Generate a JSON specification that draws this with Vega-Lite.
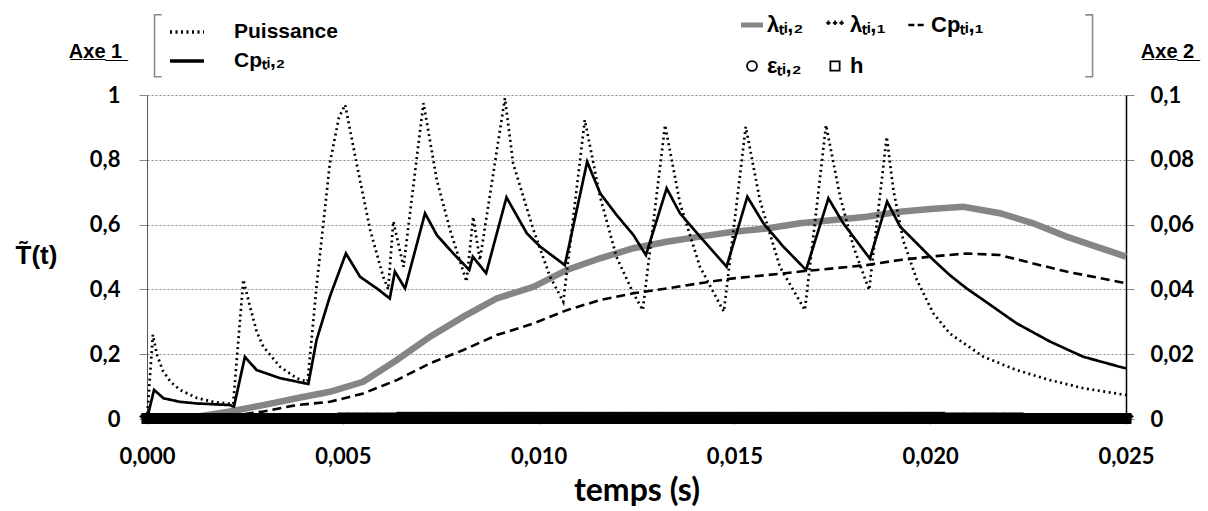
{
  "$schema": "https://vega.github.io/schema/vega-lite/v6.json",
  "width": 979,
  "height": 324,
  "autosize": {"type": "none"},
  "padding": {"left": 147, "top": 95, "right": 82, "bottom": 92},
  "background": "white",
  "config": {
    "view": {"stroke": null},
    "axis": {
      "labelFont": "Lato",
      "labelFontWeight": "bold",
      "labelFontSize": 22,
      "labelColor": "black",
      "titleFont": "Liberation Sans",
      "titleColor": "black",
      "tickColor": "#888888",
      "labelFlush": false,
      "labelOverlap": false
    }
  },
  "datasets": {
    "axe1": [
      {"t": 0, "v": 0, "s": "P"}, {"t": 0.00015, "v": 0.26, "s": "P"}, {"t": 0.00025, "v": 0.2, "s": "P"}, {"t": 0.0004, "v": 0.15, "s": "P"},
      {"t": 0.0006, "v": 0.115, "s": "P"}, {"t": 0.00084, "v": 0.09, "s": "P"}, {"t": 0.00127, "v": 0.065, "s": "P"}, {"t": 0.00169, "v": 0.053, "s": "P"},
      {"t": 0.0022, "v": 0.046, "s": "P"}, {"t": 0.00246, "v": 0.43, "s": "P"}, {"t": 0.00263, "v": 0.347, "s": "P"}, {"t": 0.0028, "v": 0.27, "s": "P"},
      {"t": 0.00297, "v": 0.223, "s": "P"}, {"t": 0.0034, "v": 0.161, "s": "P"}, {"t": 0.00382, "v": 0.126, "s": "P"}, {"t": 0.0041, "v": 0.115, "s": "P"},
      {"t": 0.00433, "v": 0.41, "s": "P"}, {"t": 0.00467, "v": 0.79, "s": "P"}, {"t": 0.0049, "v": 0.93, "s": "P"}, {"t": 0.00506, "v": 0.97, "s": "P"},
      {"t": 0.00535, "v": 0.79, "s": "P"}, {"t": 0.0057, "v": 0.583, "s": "P"}, {"t": 0.00603, "v": 0.44, "s": "P"}, {"t": 0.00616, "v": 0.4, "s": "P"},
      {"t": 0.00629, "v": 0.61, "s": "P"}, {"t": 0.00655, "v": 0.47, "s": "P"}, {"t": 0.00706, "v": 0.975, "s": "P"}, {"t": 0.0074, "v": 0.738, "s": "P"},
      {"t": 0.00774, "v": 0.583, "s": "P"}, {"t": 0.00816, "v": 0.424, "s": "P"}, {"t": 0.00833, "v": 0.624, "s": "P"}, {"t": 0.0085, "v": 0.49, "s": "P"},
      {"t": 0.00914, "v": 0.99, "s": "P"}, {"t": 0.00935, "v": 0.789, "s": "P"}, {"t": 0.00987, "v": 0.583, "s": "P"}, {"t": 0.01029, "v": 0.44, "s": "P"},
      {"t": 0.01063, "v": 0.362, "s": "P"}, {"t": 0.01118, "v": 0.923, "s": "P"}, {"t": 0.01157, "v": 0.686, "s": "P"}, {"t": 0.01199, "v": 0.5, "s": "P"},
      {"t": 0.01242, "v": 0.388, "s": "P"}, {"t": 0.01266, "v": 0.336, "s": "P"}, {"t": 0.01323, "v": 0.907, "s": "P"}, {"t": 0.01361, "v": 0.666, "s": "P"},
      {"t": 0.01412, "v": 0.47, "s": "P"}, {"t": 0.01473, "v": 0.331, "s": "P"}, {"t": 0.01529, "v": 0.902, "s": "P"}, {"t": 0.01565, "v": 0.676, "s": "P"},
      {"t": 0.01616, "v": 0.47, "s": "P"}, {"t": 0.0168, "v": 0.336, "s": "P"}, {"t": 0.01734, "v": 0.907, "s": "P"}, {"t": 0.0177, "v": 0.686, "s": "P"},
      {"t": 0.01804, "v": 0.532, "s": "P"}, {"t": 0.01844, "v": 0.398, "s": "P"}, {"t": 0.01889, "v": 0.871, "s": "P"}, {"t": 0.01906, "v": 0.707, "s": "P"},
      {"t": 0.01931, "v": 0.552, "s": "P"}, {"t": 0.01966, "v": 0.429, "s": "P"}, {"t": 0.02008, "v": 0.326, "s": "P"}, {"t": 0.0205, "v": 0.264, "s": "P"},
      {"t": 0.02136, "v": 0.192, "s": "P"}, {"t": 0.02221, "v": 0.151, "s": "P"}, {"t": 0.02306, "v": 0.12, "s": "P"}, {"t": 0.02391, "v": 0.095, "s": "P"},
      {"t": 0.025, "v": 0.074, "s": "P"},
      {"t": 0, "v": 0, "s": "C"}, {"t": 0.00018, "v": 0.09, "s": "C"}, {"t": 0.00042, "v": 0.064, "s": "C"}, {"t": 0.00084, "v": 0.053, "s": "C"},
      {"t": 0.00127, "v": 0.048, "s": "C"}, {"t": 0.00212, "v": 0.043, "s": "C"}, {"t": 0.00222, "v": 0.038, "s": "C"}, {"t": 0.0025, "v": 0.192, "s": "C"},
      {"t": 0.0028, "v": 0.151, "s": "C"}, {"t": 0.0034, "v": 0.126, "s": "C"}, {"t": 0.00412, "v": 0.108, "s": "C"}, {"t": 0.00433, "v": 0.244, "s": "C"},
      {"t": 0.00467, "v": 0.378, "s": "C"}, {"t": 0.00508, "v": 0.511, "s": "C"}, {"t": 0.00544, "v": 0.439, "s": "C"}, {"t": 0.00587, "v": 0.403, "s": "C"},
      {"t": 0.0062, "v": 0.372, "s": "C"}, {"t": 0.00633, "v": 0.455, "s": "C"}, {"t": 0.00659, "v": 0.403, "s": "C"}, {"t": 0.0071, "v": 0.635, "s": "C"},
      {"t": 0.0074, "v": 0.568, "s": "C"}, {"t": 0.00782, "v": 0.511, "s": "C"}, {"t": 0.00823, "v": 0.46, "s": "C"}, {"t": 0.00832, "v": 0.501, "s": "C"},
      {"t": 0.00866, "v": 0.45, "s": "C"}, {"t": 0.00918, "v": 0.684, "s": "C"}, {"t": 0.0097, "v": 0.573, "s": "C"}, {"t": 0.01004, "v": 0.532, "s": "C"},
      {"t": 0.01067, "v": 0.475, "s": "C"}, {"t": 0.01124, "v": 0.794, "s": "C"}, {"t": 0.01157, "v": 0.697, "s": "C"}, {"t": 0.01199, "v": 0.63, "s": "C"},
      {"t": 0.01242, "v": 0.568, "s": "C"}, {"t": 0.01274, "v": 0.506, "s": "C"}, {"t": 0.01327, "v": 0.712, "s": "C"}, {"t": 0.01361, "v": 0.635, "s": "C"},
      {"t": 0.01412, "v": 0.563, "s": "C"}, {"t": 0.0148, "v": 0.47, "s": "C"}, {"t": 0.01533, "v": 0.686, "s": "C"}, {"t": 0.01574, "v": 0.604, "s": "C"},
      {"t": 0.01625, "v": 0.532, "s": "C"}, {"t": 0.01683, "v": 0.46, "s": "C"}, {"t": 0.0174, "v": 0.681, "s": "C"}, {"t": 0.01778, "v": 0.604, "s": "C"},
      {"t": 0.01846, "v": 0.495, "s": "C"}, {"t": 0.0189, "v": 0.671, "s": "C"}, {"t": 0.01923, "v": 0.594, "s": "C"}, {"t": 0.01966, "v": 0.542, "s": "C"},
      {"t": 0.02008, "v": 0.491, "s": "C"}, {"t": 0.0205, "v": 0.444, "s": "C"}, {"t": 0.02093, "v": 0.403, "s": "C"}, {"t": 0.02136, "v": 0.367, "s": "C"},
      {"t": 0.02221, "v": 0.295, "s": "C"}, {"t": 0.02306, "v": 0.239, "s": "C"}, {"t": 0.02391, "v": 0.192, "s": "C"}, {"t": 0.025, "v": 0.156, "s": "C"}
    ],
    "lam2": [
      {"t": 0, "v": 0}, {"t": 0.0005, "v": 0.0002}, {"t": 0.00127, "v": 0.0007}, {"t": 0.00212, "v": 0.0023}, {"t": 0.00297, "v": 0.0043},
      {"t": 0.00382, "v": 0.0064}, {"t": 0.00467, "v": 0.0084}, {"t": 0.00552, "v": 0.0115}, {"t": 0.00638, "v": 0.0182}, {"t": 0.00723, "v": 0.0254},
      {"t": 0.00808, "v": 0.0316}, {"t": 0.00893, "v": 0.0372}, {"t": 0.00987, "v": 0.0408}, {"t": 0.01072, "v": 0.046}, {"t": 0.01157, "v": 0.0496},
      {"t": 0.01242, "v": 0.0527}, {"t": 0.01327, "v": 0.0547}, {"t": 0.01412, "v": 0.0563}, {"t": 0.01497, "v": 0.0578}, {"t": 0.01582, "v": 0.0588},
      {"t": 0.01668, "v": 0.0604}, {"t": 0.01753, "v": 0.0614}, {"t": 0.01838, "v": 0.0624}, {"t": 0.01923, "v": 0.064}, {"t": 0.02, "v": 0.0648},
      {"t": 0.02085, "v": 0.0655}, {"t": 0.02178, "v": 0.0635}, {"t": 0.02263, "v": 0.0604}, {"t": 0.02348, "v": 0.0563}, {"t": 0.025, "v": 0.0501}
    ],
    "cp1": [
      {"t": 0, "v": 0}, {"t": 0.001, "v": 0.0001}, {"t": 0.002, "v": 0.0008}, {"t": 0.00297, "v": 0.0023}, {"t": 0.00382, "v": 0.0043},
      {"t": 0.00467, "v": 0.0053}, {"t": 0.00552, "v": 0.0079}, {"t": 0.00638, "v": 0.012}, {"t": 0.00723, "v": 0.0172}, {"t": 0.00808, "v": 0.0213},
      {"t": 0.00893, "v": 0.0259}, {"t": 0.00987, "v": 0.0295}, {"t": 0.01072, "v": 0.0336}, {"t": 0.01157, "v": 0.0367}, {"t": 0.01242, "v": 0.0388},
      {"t": 0.01327, "v": 0.0403}, {"t": 0.01412, "v": 0.0419}, {"t": 0.01497, "v": 0.0434}, {"t": 0.01582, "v": 0.0444}, {"t": 0.01668, "v": 0.0455},
      {"t": 0.01753, "v": 0.0465}, {"t": 0.01838, "v": 0.0475}, {"t": 0.01923, "v": 0.0491}, {"t": 0.02008, "v": 0.0502}, {"t": 0.02093, "v": 0.0511},
      {"t": 0.02178, "v": 0.0506}, {"t": 0.02263, "v": 0.048}, {"t": 0.02348, "v": 0.0455}, {"t": 0.025, "v": 0.0419}
    ],
    "band": [
      {"t": 0, "lam1": 0.0002, "eps2": 0.0002, "h": 0.0001}, {"t": 0.00025, "lam1": 0.0002, "eps2": 0.0002, "h": 0.0001},
      {"t": 0.0005, "lam1": 0.0002, "eps2": 0.0002, "h": 0.0001}, {"t": 0.00075, "lam1": 0.0002, "eps2": 0.0002, "h": 0.0001},
      {"t": 0.001, "lam1": 0.0002, "eps2": 0.0002, "h": 0.0001}, {"t": 0.00125, "lam1": 0.0002, "eps2": 0.0002, "h": 0.0001},
      {"t": 0.0015, "lam1": 0.0002, "eps2": 0.0002, "h": 0.0001}, {"t": 0.00175, "lam1": 0.0002, "eps2": 0.0002, "h": 0.0001},
      {"t": 0.002, "lam1": 0.0002, "eps2": 0.0002, "h": 0.0001}, {"t": 0.00225, "lam1": 0.0002, "eps2": 0.0002, "h": 0.0001},
      {"t": 0.0025, "lam1": 0.0002, "eps2": 0.0002, "h": 0.0001}, {"t": 0.00275, "lam1": 0.0002, "eps2": 0.0002, "h": 0.0001},
      {"t": 0.003, "lam1": 0.0002, "eps2": 0.0002, "h": 0.0001}, {"t": 0.00325, "lam1": 0.0002, "eps2": 0.0002, "h": 0.0001},
      {"t": 0.0035, "lam1": 0.0002, "eps2": 0.0002, "h": 0.0001}, {"t": 0.00375, "lam1": 0.0002, "eps2": 0.0002, "h": 0.0001},
      {"t": 0.004, "lam1": 0.0002, "eps2": 0.0002, "h": 0.0001}, {"t": 0.00425, "lam1": 0.0002, "eps2": 0.0002, "h": 0.0001},
      {"t": 0.0045, "lam1": 0.0002, "eps2": 0.0002, "h": 0.0001}, {"t": 0.00475, "lam1": 0.0002, "eps2": 0.0002, "h": 0.0001},
      {"t": 0.005, "lam1": 0.0004, "eps2": 0.0002, "h": 0.0001}, {"t": 0.00525, "lam1": 0.0004, "eps2": 0.0002, "h": 0.0001},
      {"t": 0.0055, "lam1": 0.0004, "eps2": 0.0002, "h": 0.0001}, {"t": 0.00575, "lam1": 0.0004, "eps2": 0.0002, "h": 0.0001},
      {"t": 0.006, "lam1": 0.0004, "eps2": 0.0002, "h": 0.0001}, {"t": 0.00625, "lam1": 0.0004, "eps2": 0.0002, "h": 0.0001},
      {"t": 0.0065, "lam1": 0.0006, "eps2": 0.0002, "h": 0.0001}, {"t": 0.00675, "lam1": 0.0006, "eps2": 0.0002, "h": 0.0001},
      {"t": 0.007, "lam1": 0.0006, "eps2": 0.0002, "h": 0.0001}, {"t": 0.00725, "lam1": 0.0006, "eps2": 0.0002, "h": 0.0001},
      {"t": 0.0075, "lam1": 0.0006, "eps2": 0.0002, "h": 0.0001}, {"t": 0.00775, "lam1": 0.0006, "eps2": 0.0002, "h": 0.0001},
      {"t": 0.008, "lam1": 0.0006, "eps2": 0.0002, "h": 0.0001}, {"t": 0.00825, "lam1": 0.0006, "eps2": 0.0002, "h": 0.0001},
      {"t": 0.0085, "lam1": 0.0006, "eps2": 0.0002, "h": 0.0001}, {"t": 0.00875, "lam1": 0.0006, "eps2": 0.0002, "h": 0.0001},
      {"t": 0.009, "lam1": 0.0006, "eps2": 0.0002, "h": 0.0001}, {"t": 0.00925, "lam1": 0.0006, "eps2": 0.0002, "h": 0.0001},
      {"t": 0.0095, "lam1": 0.0006, "eps2": 0.0002, "h": 0.0001}, {"t": 0.00975, "lam1": 0.0006, "eps2": 0.0002, "h": 0.0001},
      {"t": 0.01, "lam1": 0.0006, "eps2": 0.0002, "h": 0.0001}, {"t": 0.01025, "lam1": 0.0006, "eps2": 0.0002, "h": 0.0001},
      {"t": 0.0105, "lam1": 0.0006, "eps2": 0.0002, "h": 0.0001}, {"t": 0.01075, "lam1": 0.0006, "eps2": 0.0002, "h": 0.0001},
      {"t": 0.011, "lam1": 0.0006, "eps2": 0.0002, "h": 0.0001}, {"t": 0.01125, "lam1": 0.0006, "eps2": 0.0002, "h": 0.0001},
      {"t": 0.0115, "lam1": 0.0006, "eps2": 0.0002, "h": 0.0001}, {"t": 0.01175, "lam1": 0.0006, "eps2": 0.0002, "h": 0.0001},
      {"t": 0.012, "lam1": 0.0006, "eps2": 0.0002, "h": 0.0001}, {"t": 0.01225, "lam1": 0.0006, "eps2": 0.0002, "h": 0.0001},
      {"t": 0.0125, "lam1": 0.0006, "eps2": 0.0002, "h": 0.0001}, {"t": 0.01275, "lam1": 0.0006, "eps2": 0.0002, "h": 0.0001},
      {"t": 0.013, "lam1": 0.0006, "eps2": 0.0002, "h": 0.0001}, {"t": 0.01325, "lam1": 0.0006, "eps2": 0.0002, "h": 0.0001},
      {"t": 0.0135, "lam1": 0.0006, "eps2": 0.0002, "h": 0.0001}, {"t": 0.01375, "lam1": 0.0006, "eps2": 0.0002, "h": 0.0001},
      {"t": 0.014, "lam1": 0.0006, "eps2": 0.0002, "h": 0.0001}, {"t": 0.01425, "lam1": 0.0006, "eps2": 0.0002, "h": 0.0001},
      {"t": 0.0145, "lam1": 0.0006, "eps2": 0.0002, "h": 0.0001}, {"t": 0.01475, "lam1": 0.0006, "eps2": 0.0002, "h": 0.0001},
      {"t": 0.015, "lam1": 0.0006, "eps2": 0.0002, "h": 0.0001}, {"t": 0.01525, "lam1": 0.0006, "eps2": 0.0002, "h": 0.0001},
      {"t": 0.0155, "lam1": 0.0006, "eps2": 0.0002, "h": 0.0001}, {"t": 0.01575, "lam1": 0.0006, "eps2": 0.0002, "h": 0.0001},
      {"t": 0.016, "lam1": 0.0006, "eps2": 0.0002, "h": 0.0001}, {"t": 0.01625, "lam1": 0.0006, "eps2": 0.0002, "h": 0.0001},
      {"t": 0.0165, "lam1": 0.0006, "eps2": 0.0002, "h": 0.0001}, {"t": 0.01675, "lam1": 0.0006, "eps2": 0.0002, "h": 0.0001},
      {"t": 0.017, "lam1": 0.0006, "eps2": 0.0002, "h": 0.0001}, {"t": 0.01725, "lam1": 0.0006, "eps2": 0.0002, "h": 0.0001},
      {"t": 0.0175, "lam1": 0.0006, "eps2": 0.0002, "h": 0.0001}, {"t": 0.01775, "lam1": 0.0006, "eps2": 0.0002, "h": 0.0001},
      {"t": 0.018, "lam1": 0.0006, "eps2": 0.0002, "h": 0.0001}, {"t": 0.01825, "lam1": 0.0006, "eps2": 0.0002, "h": 0.0001},
      {"t": 0.0185, "lam1": 0.0006, "eps2": 0.0002, "h": 0.0001}, {"t": 0.01875, "lam1": 0.0006, "eps2": 0.0002, "h": 0.0001},
      {"t": 0.019, "lam1": 0.0006, "eps2": 0.0002, "h": 0.0001}, {"t": 0.01925, "lam1": 0.0006, "eps2": 0.0002, "h": 0.0001},
      {"t": 0.0195, "lam1": 0.0006, "eps2": 0.0002, "h": 0.0001}, {"t": 0.01975, "lam1": 0.0006, "eps2": 0.0002, "h": 0.0001},
      {"t": 0.02, "lam1": 0.0006, "eps2": 0.0002, "h": 0.0001}, {"t": 0.02025, "lam1": 0.0006, "eps2": 0.0002, "h": 0.0001},
      {"t": 0.0205, "lam1": 0.0004, "eps2": 0.0002, "h": 0.0001}, {"t": 0.02075, "lam1": 0.0004, "eps2": 0.0002, "h": 0.0001},
      {"t": 0.021, "lam1": 0.0004, "eps2": 0.0002, "h": 0.0001}, {"t": 0.02125, "lam1": 0.0004, "eps2": 0.0002, "h": 0.0001},
      {"t": 0.0215, "lam1": 0.0004, "eps2": 0.0002, "h": 0.0001}, {"t": 0.02175, "lam1": 0.0004, "eps2": 0.0002, "h": 0.0001},
      {"t": 0.022, "lam1": 0.0004, "eps2": 0.0002, "h": 0.0001}, {"t": 0.02225, "lam1": 0.0004, "eps2": 0.0002, "h": 0.0001},
      {"t": 0.0225, "lam1": 0.0002, "eps2": 0.0002, "h": 0.0001}, {"t": 0.02275, "lam1": 0.0002, "eps2": 0.0002, "h": 0.0001},
      {"t": 0.023, "lam1": 0.0002, "eps2": 0.0002, "h": 0.0001}, {"t": 0.02325, "lam1": 0.0002, "eps2": 0.0002, "h": 0.0001},
      {"t": 0.0235, "lam1": 0.0002, "eps2": 0.0002, "h": 0.0001}, {"t": 0.02375, "lam1": 0.0002, "eps2": 0.0002, "h": 0.0001},
      {"t": 0.024, "lam1": 0.0002, "eps2": 0.0002, "h": 0.0001}, {"t": 0.02425, "lam1": 0.0002, "eps2": 0.0002, "h": 0.0001},
      {"t": 0.0245, "lam1": 0.0002, "eps2": 0.0002, "h": 0.0001}, {"t": 0.02475, "lam1": 0.0002, "eps2": 0.0002, "h": 0.0001},
      {"t": 0.025, "lam1": 0.0002, "eps2": 0.0002, "h": 0.0001}
    ]
  },
  "layer": [
    {
      "encoding": {
        "x": {
          "field": "t", "type": "quantitative",
          "scale": {"domain": [0, 0.025], "nice": false},
          "axis": {
            "orient": "top", "labels": false, "ticks": false, "domain": false, "grid": false,
            "title": "A\u0332x\u0332e\u0332\u00a0\u03321\u0332",
            "titleX": -52, "titleY": -38, "titleAlign": "center", "titleBaseline": "alphabetic",
            "titleFont": "Liberation Sans", "titleFontSize": 20, "titleFontWeight": "bold"
          }
        },
        "y": {
          "field": "v", "type": "quantitative",
          "scale": {"domain": [0, 0.1], "nice": false},
          "axis": {
            "orient": "right", "values": [0, 0.02, 0.04, 0.06, 0.08, 0.1],
            "labelExpr": "replace(format(datum.value, '~g'), '.', ',')",
            "grid": false, "tickSize": 8, "labelPadding": 16,
            "domainColor": "black", "domainWidth": 1.5,
            "title": "A\u0332x\u0332e\u0332\u00a0\u03322\u0332",
            "titleAngle": 0, "titleX": 41, "titleY": -38, "titleAlign": "center", "titleBaseline": "alphabetic",
            "titleFont": "Liberation Sans", "titleFontSize": 20, "titleFontWeight": "bold"
          }
        }
      },
      "layer": [
        {
          "data": {"name": "lam2"},
          "mark": {"type": "line", "color": "#858585", "strokeWidth": 6.5}
        },
        {
          "data": {"name": "cp1"},
          "mark": {"type": "line", "color": "black", "strokeWidth": 2.6, "strokeDash": [9, 5]}
        },
        {
          "data": {"name": "band"},
          "transform": [{"fold": ["lam1", "eps2", "h"], "as": ["s", "v"]}],
          "mark": {"type": "point", "shape": "square", "filled": true, "size": 110, "opacity": 1, "color": "black"}
        },
        {
          "data": {"name": "band"},
          "transform": [{"fold": ["lam1", "eps2", "h"], "as": ["s", "v"]}],
          "mark": {"type": "point", "filled": false, "size": 360, "strokeWidth": 1.5, "opacity": 1},
          "encoding": {
            "shape": {
              "field": "s", "type": "nominal",
              "scale": {
                "domain": ["lam2", "lam1", "cp1", "eps2", "h"],
                "range": [
                  "M-1,-0.15H1M-1,-0.05H1M-1,0.05H1M-1,0.15H1",
                  "M-0.8,-0.2H-0.4M-0.6,-0.4V0M-0.2,-0.2H0.2M0,-0.4V0M0.4,-0.2H0.8M0.6,-0.4V0",
                  "M-0.7,-0.04H-0.15M0.15,-0.04H0.7M-0.7,0.04H-0.15M0.15,0.04H0.7",
                  "M0.45,0A0.45,0.45 0 1,1 -0.45,0A0.45,0.45 0 1,1 0.45,0Z",
                  "M-0.42,-0.42H0.42V0.42H-0.42Z"
                ]
              },
              "legend": {
                "orient": "none", "legendX": 593, "legendY": -82, "direction": "horizontal",
                "columns": 3, "columnPadding": 18, "rowPadding": 18, "padding": 0,
                "title": "]",
                "titleOrient": "right", "titleAnchor": "start", "titleBaseline": "top", "titleAlign": "left",
                "titleFont": "Inter", "titleFontSize": 70, "titleFontWeight": 100,
                "titleColor": "#8c8c8c", "titlePadding": 96,
                "symbolSize": 484, "symbolStrokeWidth": 1.8, "labelOffset": 3, "symbolOpacity": 1,
                "labelFont": "Liberation Sans", "labelFontSize": 22, "labelFontWeight": "bold", "labelColor": "black",
                "labelExpr": "datum.value === 'lam2' ? 'λₜᵢ,₂' : datum.value === 'lam1' ? 'λₜᵢ,₁' : datum.value === 'cp1' ? 'Cpₜᵢ,₁' : datum.value === 'eps2' ? 'εₜᵢ,₂' : 'h'"
              }
            },
            "color": {
              "field": "s", "type": "nominal",
              "scale": {"domain": ["lam2", "lam1", "cp1", "eps2", "h"], "range": ["#858585", "black", "black", "black", "black"]},
              "legend": {
                "orient": "none", "legendX": 593, "legendY": -82, "direction": "horizontal",
                "columns": 3, "columnPadding": 18, "rowPadding": 18, "padding": 0,
                "title": "]",
                "titleOrient": "right", "titleAnchor": "start", "titleBaseline": "top", "titleAlign": "left",
                "titleFont": "Inter", "titleFontSize": 70, "titleFontWeight": 100,
                "titleColor": "#8c8c8c", "titlePadding": 96,
                "symbolSize": 484, "symbolStrokeWidth": 1.8, "labelOffset": 3, "symbolOpacity": 1,
                "labelFont": "Liberation Sans", "labelFontSize": 22, "labelFontWeight": "bold", "labelColor": "black",
                "labelExpr": "datum.value === 'lam2' ? 'λₜᵢ,₂' : datum.value === 'lam1' ? 'λₜᵢ,₁' : datum.value === 'cp1' ? 'Cpₜᵢ,₁' : datum.value === 'eps2' ? 'εₜᵢ,₂' : 'h'"
              }
            }
          }
        }
      ]
    },
    {
      "data": {"name": "axe1"},
      "mark": {"type": "line", "color": "black", "strokeWidth": 2.7},
      "encoding": {
        "x": {
          "field": "t", "type": "quantitative",
          "scale": {"domain": [0, 0.025], "nice": false},
          "axis": {
            "orient": "bottom", "values": [0, 0.005, 0.01, 0.015, 0.02, 0.025],
            "labelExpr": "replace(format(datum.value, '.3f'), '.', ',')",
            "grid": false, "tickSize": 5, "labelPadding": 22,
            "domainColor": "black",
            "title": "temps (s)", "titleFont": "Lato", "titleFontSize": 32, "titleFontWeight": "bold",
            "titleY": 81, "titleBaseline": "alphabetic"
          }
        },
        "y": {
          "field": "v", "type": "quantitative",
          "scale": {"domain": [0, 1], "nice": false},
          "axis": {
            "orient": "left", "values": [0, 0.2, 0.4, 0.6, 0.8, 1],
            "labelExpr": "replace(format(datum.value, '~g'), '.', ',')",
            "grid": true, "gridColor": "#8a8a8a", "gridDash": [2, 2], "gridWidth": 1,
            "tickSize": 8, "labelPadding": 19, "domainColor": "#555555",
            "title": "T\u0303(t)", "titleAngle": 0, "titleX": -111, "titleY": 160,
            "titleAlign": "center", "titleBaseline": "middle",
            "titleFont": "Liberation Sans", "titleFontSize": 26, "titleFontWeight": "bold"
          }
        },
        "strokeDash": {
          "field": "s", "type": "nominal",
          "scale": {"domain": ["P", "C"], "range": [[2, 3.5], [1, 0]]},
          "legend": {
            "orient": "none", "legendX": -2, "legendY": -82, "padding": 0,
            "title": "[",
            "titleOrient": "left", "titleAnchor": "start", "titleBaseline": "top", "titleAlign": "left",
            "titleFont": "Inter", "titleFontSize": 70, "titleFontWeight": 100,
            "titleColor": "#8c8c8c", "titlePadding": 0,
            "symbolType": "stroke", "symbolSize": 1156, "symbolStrokeWidth": 3.5, "symbolStrokeColor": "black",
            "labelFont": "Liberation Sans", "labelFontSize": 21, "labelFontWeight": "bold", "labelColor": "black",
            "labelOffset": 28, "rowPadding": 0,
            "labelExpr": "datum.value === 'P' ? 'Puissance' : 'Cpₜᵢ,₂'"
          }
        }
      }
    }
  ],
  "resolve": {"scale": {"y": "independent"}, "axis": {"x": "independent"}}
}
